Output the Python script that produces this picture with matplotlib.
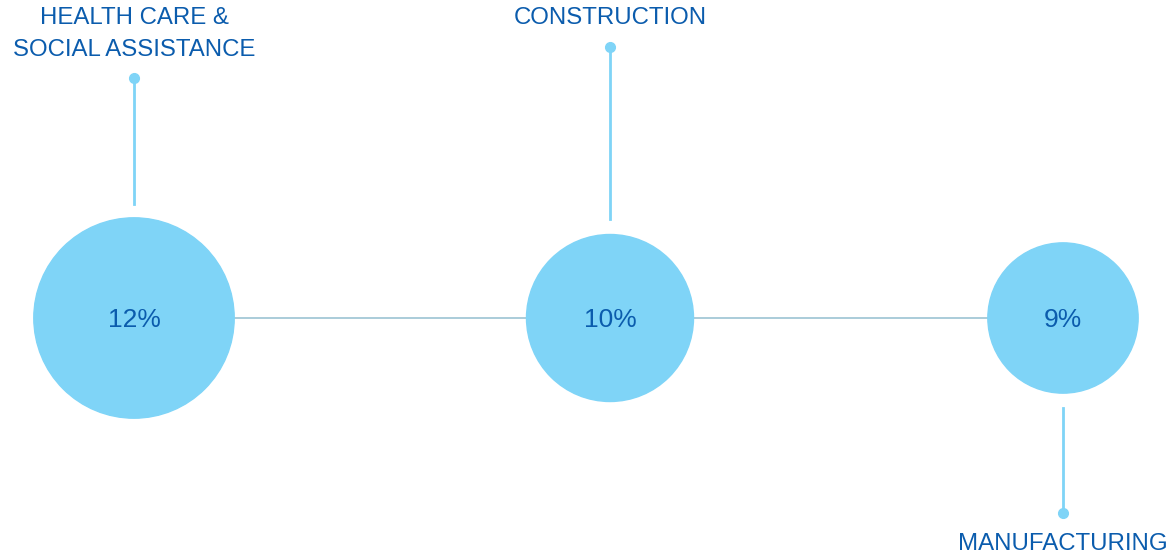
"""
Share of employment by industry, drawn as a bubble timeline.
"""
import matplotlib.pyplot as plt
from matplotlib.patches import Circle

plt.rcParams['font.family'] = ['Liberation Sans', 'DejaVu Sans']

industries = ["HEALTH CARE &\nSOCIAL ASSISTANCE", "CONSTRUCTION", "MANUFACTURING"]
shares = [12, 10, 9]
value_labels = ["12%", "10%", "9%"]

BUBBLE = '#7fd4f7'
TEXT = '#0b5cad'
LINK = '#9cc3d3'

# layout in pixel units (figure is 1173 x 558)
W, H = 1173, 558
cx = [134, 610, 1063]
cy = 318
px_per_pct = 8.35
stem_ends = [(204, 78), (219, 47), (408, 513)]
label_y = [34, 18, 544]

fig = plt.figure(figsize=(W / 100, H / 100), dpi=100)
ax = fig.add_axes([0, 0, 1, 1])
ax.set_xlim(0, W)
ax.set_ylim(H, 0)
ax.set_aspect('equal')
ax.axis('off')

radii = [s * px_per_pct for s in shares]

# connectors between bubbles
for i in range(len(cx) - 1):
    ax.plot([cx[i] + radii[i], cx[i + 1] - radii[i + 1]], [cy, cy],
            color=LINK, lw=1.2, zorder=1)

for x, r, lab, name, (y0, y1), ly in zip(cx, radii, value_labels, industries,
                                         stem_ends, label_y):
    ax.add_patch(Circle((x, cy), r, color=BUBBLE, zorder=2))
    ax.text(x, cy + 2, lab, ha='center', va='center', fontsize=19,
            color=TEXT, zorder=3)
    # stem with dot at the end
    ax.plot([x, x], [y0, y1], color=BUBBLE, lw=2, zorder=1)
    ax.plot(x, y1, 'o', color=BUBBLE, ms=7, zorder=2)
    ax.text(x, ly, name, ha='center', va='center', fontsize=17.3,
            color=TEXT, linespacing=1.6)

fig.savefig("out.png", dpi=100)
